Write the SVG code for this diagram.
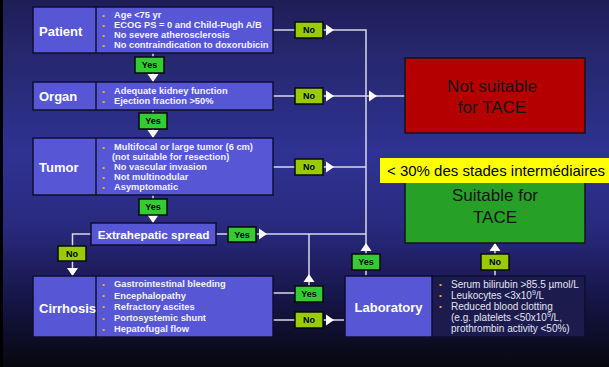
<svg xmlns="http://www.w3.org/2000/svg" width="609" height="367" viewBox="0 0 609 367">
<defs>
<linearGradient id="bg" x1="0" y1="0" x2="0" y2="1">
<stop offset="0" stop-color="#1e1e56"/>
<stop offset="0.15" stop-color="#26276e"/>
<stop offset="0.42" stop-color="#2f3292"/>
<stop offset="0.62" stop-color="#29297e"/>
<stop offset="0.82" stop-color="#151546"/>
<stop offset="1" stop-color="#07070f"/>
</linearGradient>
<path id="ah" d="M0,0 L-8,-5.5 L-8,5.5 Z" fill="#ffffff"/>
</defs>
<style>
.box{fill:#5757d6;stroke:#0e0e30;stroke-width:1.5}
.dark{fill:#1b1b4e;stroke:#0e0e30;stroke-width:1.5}
.div{stroke:#0e0e30;stroke-width:1.5}
.title{font-family:"Liberation Sans",Arial,sans-serif;font-weight:bold;font-size:13px;fill:#ffffff}
.li{font-family:"Liberation Sans",Arial,sans-serif;font-weight:bold;font-size:9.3px;fill:#f2f2ff}
.lr{font-family:"Liberation Sans",Arial,sans-serif;font-size:10px;fill:#e4e4f2}
.bul{font-family:"Liberation Sans",Arial,sans-serif;font-size:8px;fill:#f0b020}
.yes{fill:#33cc33;stroke:#0a0a0a;stroke-width:1.5}
.no{fill:#99cc00;stroke:#0a0a0a;stroke-width:1.5}
.lbl{font-family:"Liberation Sans",Arial,sans-serif;font-weight:bold;font-size:9px;fill:#000000;text-anchor:middle}
.ln{stroke:#d8d8ea;stroke-width:1.5;fill:none}
.big{font-family:"Liberation Sans",Arial,sans-serif;font-size:17px;fill:#141414;text-anchor:middle}
</style>
<rect x="0" y="0" width="609" height="367" fill="url(#bg)"/>
<rect x="0" y="0" width="3" height="367" fill="#000000"/>

<g id="connectors">
<path class="ln" d="M273,30 H295 M323,30 H366 V243"/>
<path class="ln" d="M273,96 H295 M323,96 H405"/>
<path class="ln" d="M273,167 H295 M323,167 H366"/>
<path class="ln" d="M216,234 H228 M256,234 H366"/>
<path class="ln" d="M91,234 H72.5 V246 M72.5,261 V275"/>
<path class="ln" d="M153,53 V57 M153,73 V82"/>
<path class="ln" d="M153,110 V113 M153,129 V138"/>
<path class="ln" d="M153,195 V199 M153,215 V223"/>
<path class="ln" d="M273,293 H295 M309,286 V234"/>
<path class="ln" d="M273,320 H295 M323,320 H345"/>
<path class="ln" d="M366,276 V270 M366,254 V243"/>
<path class="ln" d="M495,276 V270 M495,254 V243"/>
<use href="#ah" transform="translate(334,30)"/>
<use href="#ah" transform="translate(334,96)"/>
<use href="#ah" transform="translate(377,96)"/>
<use href="#ah" transform="translate(334,167)"/>
<use href="#ah" transform="translate(267,234)"/>
<use href="#ah" transform="translate(334,320)"/>
<use href="#ah" transform="translate(309,274) rotate(-90)"/>
<use href="#ah" transform="translate(366,243) rotate(-90)"/>
<use href="#ah" transform="translate(495,243) rotate(-90)"/>
<use href="#ah" transform="translate(153,82) rotate(90)"/>
<use href="#ah" transform="translate(153,138) rotate(90)"/>
<use href="#ah" transform="translate(153,223) rotate(90)"/>
<use href="#ah" transform="translate(72.5,276) rotate(90)"/>
<rect class="no" x="295" y="22" width="28" height="16"/><text class="lbl" x="309" y="33.2">No</text>
<rect class="no" x="295" y="88" width="28" height="16"/><text class="lbl" x="309" y="99.2">No</text>
<rect class="no" x="295" y="159" width="28" height="16"/><text class="lbl" x="309" y="170.2">No</text>
<rect class="yes" x="228" y="227" width="28" height="15"/><text class="lbl" x="242" y="237.7">Yes</text>
<rect class="no" x="58" y="246" width="28" height="15"/><text class="lbl" x="72" y="256.7">No</text>
<rect class="yes" x="135" y="57" width="29" height="16"/><text class="lbl" x="149.5" y="68.2">Yes</text>
<rect class="yes" x="139" y="113" width="28" height="16"/><text class="lbl" x="153" y="124.2">Yes</text>
<rect class="yes" x="139" y="199" width="28" height="16"/><text class="lbl" x="153" y="210.2">Yes</text>
<rect class="yes" x="295" y="286" width="28" height="16"/><text class="lbl" x="309" y="297.2">Yes</text>
<rect class="no" x="295" y="312" width="28" height="16"/><text class="lbl" x="309" y="323.2">No</text>
<rect class="yes" x="352" y="254" width="28" height="16"/><text class="lbl" x="366" y="265.2">Yes</text>
<rect class="no" x="481" y="254" width="28" height="16"/><text class="lbl" x="495" y="265.2">No</text>
</g>

<g id="patient">
<rect class="box" x="33" y="7" width="240" height="46"/>
<line class="div" x1="96" y1="7" x2="96" y2="53"/>
<text class="title" x="39" y="35.5">Patient</text>
<text class="bul" x="102" y="18">•</text><text class="li" x="114" y="18.3">Age &lt;75 yr</text>
<text class="bul" x="102" y="28">•</text><text class="li" x="114" y="28.3">ECOG PS = 0 and Child-Pugh A/B</text>
<text class="bul" x="102" y="38">•</text><text class="li" x="114" y="38.3">No severe atherosclerosis</text>
<text class="bul" x="102" y="48">•</text><text class="li" x="114" y="48.3">No contraindication to doxorubicin</text>
</g>

<g id="organ">
<rect class="box" x="33" y="82" width="240" height="28"/>
<line class="div" x1="96" y1="82" x2="96" y2="110"/>
<text class="title" x="39" y="100.5">Organ</text>
<text class="bul" x="102" y="94">•</text><text class="li" x="114" y="94.3">Adequate kidney function</text>
<text class="bul" x="102" y="103.5">•</text><text class="li" x="114" y="103.8">Ejection fraction &gt;50%</text>
</g>

<g id="tumor">
<rect class="box" x="33" y="138" width="240" height="57"/>
<line class="div" x1="96" y1="138" x2="96" y2="195"/>
<text class="title" x="39" y="172">Tumor</text>
<text class="bul" x="102" y="150">•</text><text class="li" x="114" y="150.3">Multifocal or large tumor (6 cm)</text>
<text class="li" x="112" y="160.3">(not suitable for resection)</text>
<text class="bul" x="102" y="170">•</text><text class="li" x="114" y="170.3">No vascular invasion</text>
<text class="bul" x="102" y="180">•</text><text class="li" x="114" y="180.3">Not multinodular</text>
<text class="bul" x="102" y="190">•</text><text class="li" x="114" y="190.3">Asymptomatic</text>
</g>

<g id="extrahepatic">
<rect class="box" x="91" y="223" width="125" height="22"/>
<text class="title" x="153.5" y="239" style="font-size:11.7px;text-anchor:middle">Extrahepatic spread</text>
</g>

<g id="cirrhosis">
<rect class="box" x="33" y="276" width="240" height="61"/>
<line class="div" x1="96" y1="276" x2="96" y2="337"/>
<text class="title" x="39" y="312.5">Cirrhosis</text>
<text class="bul" x="102" y="287">•</text><text class="li" x="114" y="287.3">Gastrointestinal bleeding</text>
<text class="bul" x="102" y="298.2">•</text><text class="li" x="114" y="298.5">Encephalopathy</text>
<text class="bul" x="102" y="309.4">•</text><text class="li" x="114" y="309.7">Refractory ascites</text>
<text class="bul" x="102" y="320.6">•</text><text class="li" x="114" y="320.9">Portosystemic shunt</text>
<text class="bul" x="102" y="331.8">•</text><text class="li" x="114" y="332.1">Hepatofugal flow</text>
</g>

<g id="laboratory">
<rect class="dark" x="345" y="276" width="240" height="61"/>
<rect class="box" x="345" y="276" width="87" height="61"/>
<text class="title" x="388.5" y="311.5" style="text-anchor:middle">Laboratory</text>
<text class="bul" x="439" y="287">•</text><text class="lr" x="451" y="287.5">Serum bilirubin &gt;85.5 µmol/L</text>
<text class="bul" x="439" y="298">•</text><text class="lr" x="451" y="298.5">Leukocytes &lt;3x10<tspan dy="-3.5" font-size="7">9</tspan><tspan dy="3.5">/L</tspan></text>
<text class="bul" x="439" y="309">•</text><text class="lr" x="451" y="309.5">Reduced blood clotting</text>
<text class="lr" x="451" y="320.5">(e.g. platelets &lt;50x10<tspan dy="-3.5" font-size="7">9</tspan><tspan dy="3.5">/L,</tspan></text>
<text class="lr" x="451" y="332">prothrombin activity &lt;50%)</text>
</g>

<g id="not-suitable">
<rect x="405" y="58" width="180" height="75" fill="#b40000" stroke="#14141e" stroke-width="1.5"/>
<text class="big" x="492" y="92">Not suitable</text>
<text class="big" x="492" y="113">for TACE</text>
</g>

<g id="suitable">
<rect x="405" y="168" width="180" height="75" fill="#26a026" stroke="#14141e" stroke-width="1.5"/>
<text class="big" x="495" y="201">Suitable for</text>
<text class="big" x="495" y="223">TACE</text>
</g>

<g id="note">
<rect x="380" y="158" width="229" height="25" fill="#ffff00"/>
<text x="387" y="176" style="font-family:'Liberation Sans',Arial,sans-serif;font-size:15px;fill:#000000">&lt; 30% des stades intermédiaires</text>
</g>
</svg>
